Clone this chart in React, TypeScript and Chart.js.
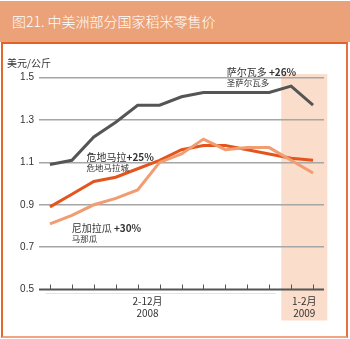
import React, { useEffect, useRef } from "react";
import { Chart, registerables } from "chart.js";
Chart.register(...registerables);

const months = ["2", "3", "4", "5", "6", "7", "8", "9", "10", "11", "12", "1", "2"];
const elSalvador = [1.09, 1.11, 1.22, 1.29, 1.37, 1.37, 1.41, 1.43, 1.43, 1.43, 1.43, 1.46, 1.37];
const guatemala = [0.89, 0.95, 1.01, 1.03, 1.07, 1.11, 1.16, 1.18, 1.18, 1.16, 1.14, 1.12, 1.11];
const nicaragua = [0.81, 0.85, 0.9, 0.93, 0.97, 1.1, 1.14, 1.21, 1.16, 1.17, 1.17, 1.11, 1.05];
const yTicks = [0.5, 0.7, 0.9, 1.1, 1.3, 1.5];
const periodLabels = [
  { x: 4.45, line1: "2-12月", line2: "2008" },
  { x: 11.6, line1: "1-2月", line2: "2009" },
];
const annotations = [
  { x: 8.06, y: 1.528, main: "萨尔瓦多 ", pct: "+26%", sub: "圣萨尔瓦多" },
  { x: 1.67, y: 1.124, main: "危地马拉", pct: "+25%", sub: "危地马拉城" },
  { x: 0.99, y: 0.789, main: "尼加拉瓜 ", pct: "+30%", sub: "马那瓜" },
];
const shadeFrom = 10.55;
const shadeTo = 12.65;

const CJK = '"Noto Sans CJK SC", "Liberation Sans", sans-serif';

const toPts = (arr: number[]) => arr.map((v, i) => ({ x: i, y: v }));

export default function App() {
  const ref = useRef<HTMLCanvasElement | null>(null);
  useEffect(() => {
    if (!ref.current) return;
    const decor = {
      id: "decor",
      beforeDraw(chart: any) {
        const { ctx, scales } = chart;
        const xs = scales.x, ys = scales.y;
        ctx.save();
        ctx.fillStyle = "#FADDCB";
        const x0 = xs.getPixelForValue(shadeFrom);
        const x1 = xs.getPixelForValue(shadeTo);
        const y0 = ys.getPixelForValue(1.517);
        const y1 = ys.getPixelForValue(0.5) + 31;
        ctx.fillRect(x0, y0, x1 - x0, y1 - y0);
        ctx.restore();
      },
      afterDatasetsDraw(chart: any) {
        const { ctx, scales, chartArea } = chart;
        const xs = scales.x, ys = scales.y;
        const yb = ys.getPixelForValue(0.5);
        ctx.save();
        // faint line below axis
        ctx.strokeStyle = "#e4e4e4";
        ctx.lineWidth = 1;
        ctx.beginPath();
        ctx.moveTo(xs.getPixelForValue(-0.2), yb + 4);
        ctx.lineTo(xs.getPixelForValue(10.3), yb + 4);
        ctx.stroke();
        // axis line
        ctx.strokeStyle = "#555";
        ctx.lineWidth = 2;
        ctx.beginPath();
        ctx.moveTo(chartArea.left, yb);
        ctx.lineTo(chartArea.right, yb);
        ctx.stroke();
        // tick marks
        ctx.lineWidth = 1;
        months.forEach((_, i) => {
          const px = Math.round(xs.getPixelForValue(i)) + 0.5;
          ctx.beginPath();
          ctx.moveTo(px, yb);
          ctx.lineTo(px, yb - 5);
          ctx.stroke();
        });
        // period labels
        ctx.fillStyle = "#333";
        ctx.textAlign = "center";
        ctx.textBaseline = "middle";
        ctx.font = "10px " + CJK;
        periodLabels.forEach((p) => {
          const px = xs.getPixelForValue(p.x);
          ctx.fillText(p.line1, px, yb + 11.5);
          ctx.fillText(p.line2, px, yb + 24);
        });
        // unit
        ctx.textAlign = "left";
        ctx.fillText("美元/公斤", 7, ys.getPixelForValue(1.5) - 14);
        // annotations
        annotations.forEach((a) => {
          const px = xs.getPixelForValue(a.x);
          const py = ys.getPixelForValue(a.y);
          ctx.font = "10px " + CJK;
          ctx.fillStyle = "#333";
          ctx.fillText(a.main, px, py);
          const w = ctx.measureText(a.main).width;
          ctx.font = "bold 10px " + CJK;
          ctx.fillText(a.pct, px + w, py);
          ctx.font = "8.5px " + CJK;
          ctx.fillText(a.sub, px, py + 10.5);
        });
        ctx.restore();
      },
    };
    const chart = new Chart(ref.current, {
      type: "line",
      data: {
        datasets: [
          { label: "尼加拉瓜", data: toPts(nicaragua), borderColor: "#F29C72", borderWidth: 3 },
          { label: "危地马拉", data: toPts(guatemala), borderColor: "#E2561E", borderWidth: 3 },
          { label: "萨尔瓦多", data: toPts(elSalvador), borderColor: "#555555", borderWidth: 3 },
        ].map((d) => ({ ...d, pointRadius: 0, tension: 0, fill: false })),
      },
      plugins: [decor],
      options: {
        animation: false,
        responsive: false,
        devicePixelRatio: 1,
        layout: { padding: { left: 0, right: 26, top: 77.7, bottom: 49.5 } },
        plugins: { legend: { display: false }, tooltip: { enabled: false } },
        scales: {
          x: { type: "linear", min: -0.5, max: 12.5, display: false },
          y: {
            min: 0.5,
            max: 1.5,
            afterBuildTicks: (s: any) => {
              s.ticks = yTicks.map((v) => ({ value: v }));
            },
            afterFit: (s: any) => {
              s.width = 39;
            },
            border: { display: false },
            grid: {
              drawTicks: false,
              color: (c: any) => (c.tick && c.tick.value === 0.5 ? "rgba(0,0,0,0)" : "#a6a6a6"),
              lineWidth: 1.5,
            },
            ticks: {
              padding: 5,
              color: "#333",
              font: { size: 10, family: '"Liberation Sans", sans-serif' },
              callback: (v: any) => Number(v).toFixed(1),
            },
          },
        },
      },
    });
    return () => chart.destroy();
  }, []);

  return (
    <div style={{ position: "absolute", left: 0, top: 0, width: 350, height: 339, background: "#fff", overflow: "hidden" }}>
      <div
        style={{
          position: "absolute",
          left: 0,
          top: 1,
          width: 350,
          height: 41,
          background: "#EBA278",
          color: "#fff",
          fontFamily: CJK,
          fontSize: 14,
          fontWeight: 300,
          lineHeight: "40px",
          paddingLeft: 12,
          boxSizing: "border-box",
        }}
      >
        图21. 中美洲部分国家稻米零售价
      </div>
      <div
        style={{
          position: "absolute",
          left: 1,
          top: 42,
          width: 347,
          height: 296,
          boxSizing: "border-box",
          borderTop: "2px solid #E2602A",
          borderLeft: "2px solid #E2682E",
          borderRight: "2px solid #E8703A",
          borderBottom: "2px solid #F3A380",
        }}
      />
      <canvas ref={ref} width={350} height={339} style={{ position: "absolute", left: 0, top: 0, width: 350, height: 339 }} />
    </div>
  );
}
